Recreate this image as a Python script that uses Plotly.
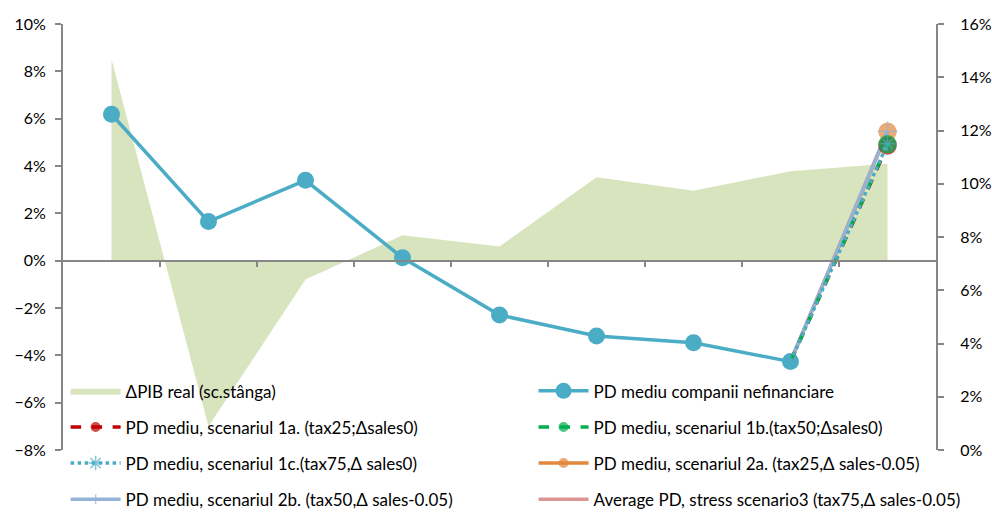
import plotly.graph_objects as go

# Period positions along the horizontal axis (9 periods, no labels shown)
periods = [0, 1, 2, 3, 4, 5, 6, 7, 8]

# Real GDP change, left axis (%)
gdp_real = [8.5, -7.0, -0.8, 1.07, 0.6, 3.52, 2.95, 3.78, 4.09]

# Average PD of non-financial companies, right axis (%)
pd_avg = [12.61, 8.58, 10.13, 7.22, 5.07, 4.28, 4.03, 3.32]

# Scenario paths: from the last observed period to the projection period
scen_x = [7, 8]
pd_1a = [3.32, 11.44]
pd_1b = [3.32, 11.48]
pd_1c = [3.32, 11.50]
pd_2a = [3.32, 11.95]
pd_2b = [3.32, 11.97]
pd_3 = [3.32, 11.98]

names = {
    "gdp": "ΔPIB real (sc.stânga)",
    "pd": "PD mediu companii nefinanciare",
    "1a": "PD mediu, scenariul 1a. (tax25;Δsales0)",
    "1b": "PD mediu, scenariul 1b.(tax50;Δsales0)",
    "1c": "PD mediu, scenariul 1c.(tax75,Δ sales0)",
    "2a": "PD mediu, scenariul 2a. (tax25,Δ sales-0.05)",
    "2b": "PD mediu, scenariul 2b. (tax50,Δ sales-0.05)",
    "3": "Average PD, stress scenario3 (tax75,Δ sales-0.05)",
}

FONT = "Lato"
AXIS_GREY = "#868686"

fig = go.Figure()

fig.add_trace(go.Scatter(
    x=periods, y=[v / 100 for v in gdp_real], name=names["gdp"],
    mode="lines", fill="tozeroy", fillcolor="#D7E4BD",
    line=dict(width=0, color="#D7E4BD"),
    legend="legend", legendgroup="g1", legendrank=1,
))

fig.add_trace(go.Scatter(
    x=periods[:len(pd_avg)], y=[v / 100 for v in pd_avg], name=names["pd"],
    yaxis="y2", mode="lines+markers",
    line=dict(color="#4BACC6", width=3.5),
    marker=dict(size=17, color="#4BACC6"),
    legend="legend2", legendgroup="g2", legendrank=1,
))

def scenario(y, key, color, dash, symbol, size, legend, group, rank, width=3.5, both=False):
    fig.add_trace(go.Scatter(
        x=scen_x, y=[v / 100 for v in y], name=names[key], yaxis="y2",
        mode="lines+markers",
        line=dict(color=color, width=width, dash=dash),
        marker=dict(symbol=symbol, color=color, size=[size if both else 0, size],
                    line=dict(width=1.5, color=color)),
        legend=legend, legendgroup=group, legendrank=rank,
    ))

scenario(pd_3, "3", "#D99694", "solid", "circle", 0, "legend2", "g8", 4)
scenario(pd_2a, "2a", "#E3873D", "solid", "circle", 17, "legend2", "g6", 3)
scenario(pd_2b, "2b", "#95B3D7", "solid", "cross-thin", 14, "legend", "g7", 4)
scenario(pd_1a, "1a", "#C00000", "dash", "circle", 17, "legend", "g3", 2)
scenario(pd_1b, "1b", "#00B050", "dash", "circle", 17, "legend2", "g4", 2)
scenario(pd_1c, "1c", "#4BACC6", "dot", "asterisk-open", 12, "legend", "g5", 3, both=True)

legend_common = dict(
    bgcolor="rgba(0,0,0,0)", orientation="v", yanchor="top", xanchor="left",
    font=dict(family=FONT, size=17, color="#000000"),
    tracegroupgap=11, traceorder="grouped", itemwidth=50,
)

fig.update_layout(
    width=992, height=514,
    margin=dict(l=63, r=56, t=24, b=64, autoexpand=False),
    paper_bgcolor="white", plot_bgcolor="white",
    font=dict(family=FONT, size=16, color="#000000"),
    xaxis=dict(
        range=[-0.5, 8.5], anchor="free", position=0.08 / 0.18,
        showline=True, linecolor=AXIS_GREY, linewidth=2,
        ticks="outside", ticklen=5, tickcolor=AXIS_GREY, tickwidth=2,
        tickvals=[0.5, 1.5, 2.5, 3.5, 4.5, 5.5, 6.5, 7.5],
        showticklabels=False, showgrid=False, zeroline=False,
    ),
    yaxis=dict(
        range=[-0.08, 0.10], dtick=0.02, tickformat=".0%",
        showline=True, linecolor=AXIS_GREY, linewidth=2,
        ticks="outside", ticklen=6, tickcolor=AXIS_GREY, tickwidth=2,
        ticklabelstandoff=6,
        showgrid=False, zeroline=False,
    ),
    yaxis2=dict(
        range=[0, 0.16], dtick=0.02, tickformat=".0%", overlaying="y", side="right",
        showline=True, linecolor=AXIS_GREY, linewidth=2,
        ticks="outside", ticklen=6, tickcolor=AXIS_GREY, tickwidth=2,
        ticklabelstandoff=13,
        showgrid=False, zeroline=False,
    ),
    legend=dict(x=0.003, y=0.18, **legend_common),
    legend2=dict(x=0.539, y=0.18, **legend_common),
)

fig.write_html("out.html")
